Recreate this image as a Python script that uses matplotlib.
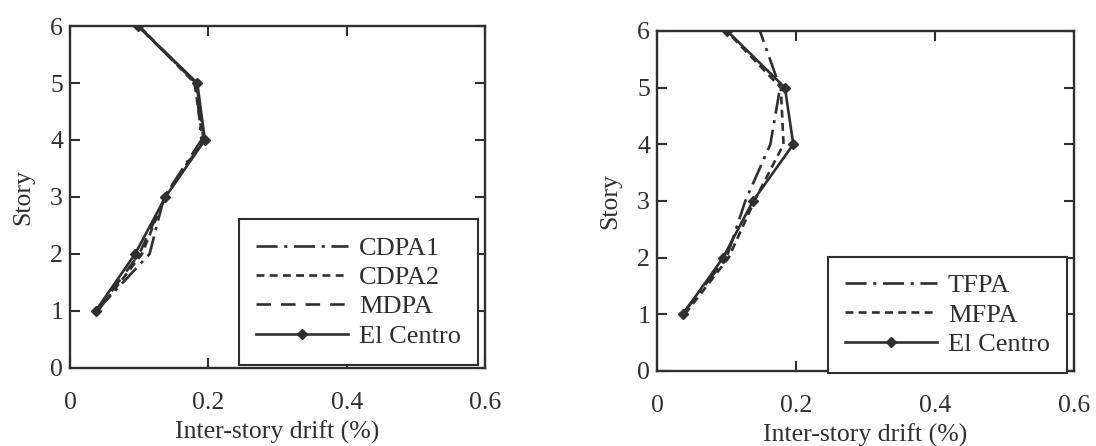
import numpy             as np
import matplotlib
matplotlib.use("Agg")
import matplotlib.pyplot as plt


# story levels and peak inter-story drift (%) for each procedure
stories      = [1, 2, 3, 4, 5, 6]

# displacement-based procedures
cdpa1        = [0.038, 0.115, 0.136, 0.190, 0.182, 0.098]
cdpa2        = [0.040, 0.104, 0.137, 0.192, 0.180, 0.100]
mdpa         = [0.039, 0.100, 0.138, 0.193, 0.183, 0.099]
elcentro_a   = [0.037, 0.094, 0.138, 0.195, 0.184, 0.098]

# force-based procedures
tfpa         = [0.036, 0.100, 0.127, 0.163, 0.177, 0.148]
mfpa         = [0.040, 0.103, 0.140, 0.182, 0.178, 0.100]
elcentro_b   = [0.037, 0.095, 0.138, 0.196, 0.184, 0.101]

xticks       = [0, 0.2, 0.4, 0.6]
xticklabels  = ["0", "0.2", "0.4", "0.6"]
yticks       = [0, 1, 2, 3, 4, 5, 6]


ink = "#2f2f2f"

plt.rcParams["font.family"]      = ["Liberation Serif", "DejaVu Serif"]
plt.rcParams["text.color"]       = ink
plt.rcParams["axes.labelcolor"]  = ink
plt.rcParams["xtick.color"]      = ink
plt.rcParams["ytick.color"]      = ink

dashdot_long = (0, (8, 2.5, 1.2, 2.5))
dash_short   = (0, (3.0, 2.0))
dash_mid     = (0, (5.5, 3.8))

lw = 1.9

fig = plt.figure(figsize=(10.96, 4.46), dpi=100)
ax0 = fig.add_axes([0.0639, 0.1749, 0.3786, 0.7668])
ax1 = fig.add_axes([0.5995, 0.1682, 0.3805, 0.7623])


def style_axes(ax):
    ax.set_xlim(0, 0.6)
    ax.set_ylim(0, 6)
    ax.set_xticks(xticks)
    ax.set_xticklabels(xticklabels)
    ax.set_yticks(yticks)
    ax.tick_params(direction="in", top=True, right=True, length=7, width=1.5,
                   labelsize=18.5)
    ax.tick_params(axis="x", pad=17)
    ax.tick_params(axis="y", pad=5)
    for sp in ax.spines.values():
        sp.set_linewidth(1.7)
        sp.set_color(ink)
    ax.set_xlabel("Inter-story drift (%)", fontsize=18.5, labelpad=5)
    ax.set_ylabel("Story", fontsize=18.5, labelpad=11.5)


def add_legend(ax, y0):
    leg = ax.legend(loc="lower right", bbox_to_anchor=(0.983, y0),
                    fontsize=19, frameon=True, fancybox=False, framealpha=1,
                    edgecolor=ink, handlelength=3.5, handletextpad=0.4,
                    borderpad=0.65, labelspacing=0.22, borderaxespad=0)
    leg.get_frame().set_linewidth(1.5)
    return leg


# left panel
ax0.plot(cdpa1, stories, color=ink, lw=lw, linestyle=dashdot_long, label="CDPA1")
ax0.plot(cdpa2, stories, color=ink, lw=lw, linestyle=dash_short,   label="CDPA2")
ax0.plot(mdpa,  stories, color=ink, lw=lw, linestyle=dash_mid,     label="MDPA")
ax0.plot(elcentro_a, stories, color=ink, lw=lw, marker="D", markersize=5.5,
         label="El Centro")
style_axes(ax0)
add_legend(ax0, 0.009)

# right panel
ax1.plot(tfpa, stories, color=ink, lw=lw, linestyle=dashdot_long, label="TFPA")
ax1.plot(mfpa, stories, color=ink, lw=lw, linestyle=dash_short,   label="MFPA")
ax1.plot(elcentro_b, stories, color=ink, lw=lw, marker="D", markersize=5.5,
         label="El Centro")
style_axes(ax1)
add_legend(ax1, -0.006)

plt.savefig("out.png", dpi=100)
